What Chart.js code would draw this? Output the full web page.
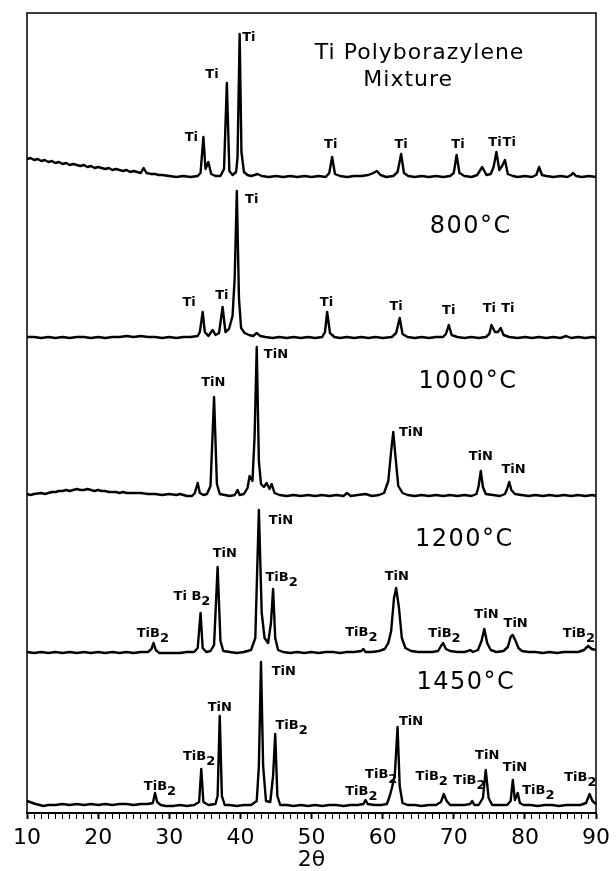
<!DOCTYPE html>
<html>
<head>
<meta charset="utf-8">
<script src="https://cdn.jsdelivr.net/npm/chart.js@4.4.1/dist/chart.umd.min.js"></script>
<style>
  html, body { margin: 0; padding: 0; background: #fff; }
</style>
</head>
<body>
<canvas id="xrd" width="616" height="871"></canvas>
<script>
// 2-theta (deg) and counts (arbitrary), top to bottom
const mixAngle = [10, 10.5, 11, 11.5, 12, 12.5, 13, 13.5, 14, 14.5, 15, 15.5, 16, 16.5, 17, 17.5, 18, 18.5, 19, 19.5, 20, 20.5, 21, 21.5, 22, 22.5, 23, 23.5, 24, 24.5, 25, 25.5, 26, 26.4, 26.8, 27.5, 28, 28.5, 29, 30, 31, 32, 33, 34, 34.4, 34.8, 35.1, 35.5, 35.9, 36.5, 37.2, 37.7, 38.1, 38.45, 38.9, 39.4, 39.6, 39.9, 40.15, 40.5, 41, 41.5, 42, 42.4, 43, 44, 45, 46, 47, 48, 49, 50, 51, 52, 52.5, 52.9, 53.3, 54, 55, 56, 57, 58, 58.7, 59.2, 59.7, 60.5, 61.5, 62.1, 62.6, 63, 63.6, 64.5, 65.5, 66.5, 67.5, 68.5, 69.5, 70, 70.4, 70.8, 71.5, 72.5, 73.3, 74, 74.6, 75.2, 75.6, 76, 76.4, 76.8, 77.2, 77.6, 78.3, 79, 80, 81, 81.6, 82, 82.4, 83, 84, 85, 86, 86.5, 86.8, 87.2, 88, 89, 90];
const mixCounts = [18, 19, 17, 18, 16, 17, 15, 16, 14, 15, 13, 14, 12, 13, 12, 11, 12, 10, 11, 9, 10, 9, 8, 9, 7, 8, 7, 6, 7, 5, 6, 5, 4, 9, 4, 3, 3, 2, 2, 1, 0, 1, 0, 1, 4, 40, 8, 15, 3, 1, 1, 8, 94, 6, 2, 5, 20, 143, 25, 5, 2, 1, 2, 3, 1, 0, 1, 0, 1, 0, 1, 0, 1, 0, 4, 20, 3, 1, 0, 1, 1, 2, 4, 6, 2, 0, 1, 5, 23, 4, 1, 0, 1, 0, 1, 0, 1, 4, 22, 4, 1, 0, 2, 10, 2, 3, 10, 25, 7, 11, 17, 3, 1, 0, 1, 0, 2, 10, 2, 1, 0, 1, 0, 2, 4, 1, 0, 1, 0];

const t800Angle = [10, 11, 12, 13, 14, 15, 16, 17, 18, 19, 20, 21, 22, 23, 24, 25, 26, 27, 28, 29, 30, 31, 32, 33, 34, 34.3, 34.7, 35, 35.5, 36.1, 36.5, 37, 37.5, 37.9, 38.4, 38.9, 39.2, 39.5, 39.8, 40.1, 40.6, 41.2, 41.8, 42.3, 42.8, 43.5, 44.5, 45.5, 46.5, 47.5, 48.5, 49.5, 50.5, 51.5, 51.9, 52.2, 52.6, 53.2, 54, 55, 56, 57, 58, 59, 60, 61.3, 61.9, 62.4, 62.8, 63.5, 64.5, 65.5, 66.5, 67.5, 68.5, 68.9, 69.3, 69.7, 70.5, 71.5, 72.5, 73.5, 74.5, 75, 75.3, 75.8, 76.2, 76.6, 77, 77.8, 79, 80, 81, 82, 83, 84, 85, 85.8, 86.5, 87.5, 88.5, 89.5, 90];
const t800Counts = [1, 1, 0, 1, 0, 1, 0, 1, 1, 0, 1, 0, 1, 1, 2, 1, 2, 1, 1, 0, 1, 0, 1, 1, 2, 6, 26, 6, 2, 8, 3, 5, 31, 6, 9, 22, 60, 147, 40, 10, 5, 3, 2, 5, 2, 1, 0, 1, 0, 1, 0, 1, 0, 1, 6, 26, 5, 1, 0, 1, 0, 1, 0, 1, 0, 1, 5, 20, 4, 1, 0, 1, 0, 1, 1, 4, 13, 3, 1, 0, 1, 0, 1, 4, 13, 6, 6, 10, 3, 1, 0, 1, 0, 1, 0, 1, 0, 2, 0, 1, 0, 1, 0];

const t1000Angle = [10, 10.5, 11, 12, 12.5, 13, 13.5, 14, 14.5, 15, 15.5, 16, 16.5, 17, 17.5, 18, 18.5, 19, 19.5, 20, 20.5, 21, 21.5, 22, 22.5, 23, 23.5, 24, 25, 26, 27, 28, 29, 30, 31, 31.5, 32, 32.5, 33.2, 33.6, 34, 34.3, 34.8, 35.3, 35.8, 36.3, 36.7, 37.1, 37.8, 38.5, 39.2, 39.6, 39.9, 40.5, 41, 41.3, 41.7, 42, 42.3, 42.6, 42.9, 43.3, 43.7, 44.1, 44.4, 44.8, 45.5, 46.5, 47.5, 48.5, 49.5, 50.5, 51.5, 52.5, 53.5, 54.5, 55, 55.5, 56.5, 57.6, 58.5, 59.5, 60.2, 60.8, 61.2, 61.5, 61.8, 62.2, 62.8, 63.5, 64.5, 65.5, 66.5, 67.5, 68.5, 69.5, 70.5, 71.5, 72.5, 73.2, 73.5, 73.8, 74.1, 74.5, 75.5, 76.5, 77.2, 77.5, 77.8, 78.1, 78.6, 79.5, 80.5, 81.5, 82.5, 83.5, 84.5, 85.5, 86.5, 87.5, 88.5, 89.5, 90];
const t1000Counts = [2, 1, 2, 3, 2, 3, 4, 4, 5, 5, 6, 5, 6, 7, 6, 6, 7, 6, 5, 6, 5, 5, 4, 4, 4, 3, 4, 3, 3, 3, 2, 2, 1, 2, 1, 2, 1, 0, 0, 3, 13, 3, 1, 2, 10, 99, 12, 2, 1, 0, 1, 6, 1, 2, 8, 20, 15, 60, 149, 35, 12, 9, 13, 7, 12, 3, 1, 0, 1, 0, 1, 0, 1, 0, 1, 0, 3, 0, 1, 2, 0, 1, 3, 15, 45, 64, 40, 10, 3, 1, 0, 1, 0, 1, 0, 1, 0, 1, 0, 2, 10, 25, 9, 2, 1, 0, 2, 7, 14, 6, 2, 1, 0, 1, 0, 1, 0, 1, 0, 1, 0, 1, 0];

const t1200Angle = [10, 11, 12, 13, 14, 15, 16, 17, 18, 19, 20, 21, 22, 23, 24, 25, 26, 27, 27.5, 27.8, 28.1, 28.6, 29.5, 30.5, 31.5, 32.5, 33.5, 34, 34.4, 34.7, 35.2, 35.8, 36.3, 36.8, 37.2, 37.6, 38.5, 39.5, 40.5, 41.5, 42.1, 42.6, 43, 43.4, 43.9, 44.3, 44.6, 44.9, 45.3, 46, 47, 48, 49, 50, 51, 52, 53, 54, 55, 56, 57, 57.3, 57.6, 58.5, 59.5, 60.3, 60.8, 61.2, 61.6, 61.9, 62.3, 62.7, 63.2, 64, 65, 66, 67, 67.8, 68.2, 68.5, 68.9, 69.5, 70.5, 71.5, 72, 72.3, 72.7, 73.4, 73.9, 74.3, 74.7, 75.2, 76, 77, 77.6, 78, 78.3, 78.7, 79.1, 79.6, 80.5, 81.5, 82.5, 83.5, 84.5, 85.5, 86.5, 87.5, 88.3, 88.9, 89.4, 90];
const t1200Counts = [1, 0, 1, 0, 1, 0, 1, 0, 1, 0, 1, 0, 1, 0, 1, 0, 1, 1, 4, 10, 3, 0, 0, 0, 0, 1, 1, 5, 40, 5, 1, 2, 8, 86, 12, 2, 1, 0, 1, 3, 15, 143, 40, 15, 10, 30, 64, 15, 3, 1, 0, 1, 0, 1, 0, 1, 1, 0, 1, 1, 2, 4, 1, 1, 2, 4, 10, 22, 55, 65, 45, 15, 5, 2, 1, 1, 1, 2, 7, 10, 4, 2, 1, 1, 2, 3, 1, 3, 12, 24, 10, 3, 1, 2, 6, 16, 18, 12, 5, 2, 1, 1, 0, 1, 0, 1, 1, 1, 3, 7, 4, 3];

const t1450Angle = [10, 10.4, 10.8, 11.2, 11.8, 12.3, 13, 14, 15, 16, 17, 18, 19, 20, 21, 22, 23, 24, 25, 26, 27, 27.7, 28, 28.3, 28.8, 29.5, 30.5, 31.5, 32.5, 33.5, 34.2, 34.5, 34.8, 35.5, 36.5, 36.8, 37.1, 37.4, 37.8, 38.5, 39.5, 40.5, 41.5, 42.3, 42.6, 42.9, 43.2, 43.6, 44.2, 44.6, 44.9, 45.2, 45.6, 46.5, 47.5, 48.5, 49.5, 50.5, 51.5, 52.5, 53.5, 54.5, 55.5, 56.5, 57.3, 57.6, 57.9, 58.8, 59.8, 60.6, 61, 61.3, 61.7, 62.1, 62.4, 62.8, 63.5, 64.5, 65.5, 66.5, 67.5, 68.2, 68.6, 69, 69.5, 70.5, 71.5, 72.3, 72.6, 72.9, 73.5, 74.1, 74.5, 74.9, 75.4, 76.5, 77.5, 78, 78.3, 78.6, 79, 79.3, 79.8, 80.8, 81.8, 82.8, 83.8, 84.8, 85.8, 86.8, 87.8, 88.6, 89.1, 89.5, 90];
const t1450Counts = [5, 4, 3, 2, 1, 0, 1, 1, 2, 1, 2, 1, 2, 1, 2, 1, 2, 2, 1, 2, 2, 3, 13, 4, 1, 0, 0, 1, 0, 1, 4, 37, 4, 1, 2, 10, 90, 10, 1, 1, 0, 1, 1, 5, 40, 144, 40, 5, 4, 30, 72, 10, 1, 1, 0, 1, 0, 1, 0, 1, 1, 0, 1, 1, 2, 6, 2, 1, 1, 2, 10, 18, 30, 79, 20, 3, 1, 1, 0, 1, 1, 4, 12, 5, 1, 1, 1, 2, 5, 1, 1, 8, 36, 8, 1, 1, 1, 5, 26, 6, 13, 3, 1, 1, 0, 1, 1, 0, 1, 1, 1, 3, 12, 5, 2];

// phase labels: panel index (0 = top), 2-theta, height above baseline, text
const peakPanel = [0, 0, 0, 0, 0, 0, 0, 0, 1, 1, 1, 1, 1, 1, 1, 1, 2, 2, 2, 2, 2, 3, 3, 3, 3, 3, 3, 3, 3, 3, 3, 3, 4, 4, 4, 4, 4, 4, 4, 4, 4, 4, 4, 4, 4, 4];
const peakAngle = [41.2, 36.0, 33.1, 52.7, 62.6, 70.6, 75.8, 77.8, 41.6, 32.8, 37.4, 52.1, 61.9, 69.3, 75.0, 77.6, 45.0, 36.2, 64.0, 73.8, 78.4, 45.7, 37.8, 33.2, 45.8, 62.0, 27.7, 57.0, 68.7, 74.6, 78.7, 87.6, 46.1, 37.1, 34.2, 47.2, 28.7, 64.0, 57.0, 59.8, 66.9, 72.2, 74.7, 78.6, 81.9, 87.8];
const peakHeight = [139, 102, 39, 32, 32, 32, 34, 34, 138, 35, 42, 35, 31, 27, 29, 29, 141, 113, 63, 39, 26, 132, 99, 56, 75, 76, 19, 20, 19, 38, 29, 19, 134, 98, 49, 80, 19, 84, 14, 31, 29, 25, 50, 38, 15, 28];
const peakText = ['Ti', 'Ti', 'Ti', 'Ti', 'Ti', 'Ti', 'Ti', 'Ti', 'Ti', 'Ti', 'Ti', 'Ti', 'Ti', 'Ti', 'Ti', 'Ti', 'TiN', 'TiN', 'TiN', 'TiN', 'TiN', 'TiN', 'TiN', 'Ti B2', 'TiB2', 'TiN', 'TiB2', 'TiB2', 'TiB2', 'TiN', 'TiN', 'TiB2', 'TiN', 'TiN', 'TiB2', 'TiB2', 'TiB2', 'TiN', 'TiB2', 'TiB2', 'TiB2', 'TiB2', 'TiN', 'TiN', 'TiB2', 'TiB2'];

// sample captions
const titlePanel = [0, 0, 1, 2, 3, 4];
const titleAngle = [65.2, 63.6, 72.4, 72.0, 71.5, 71.7];
const titleHeight = [124, 97, 111, 114, 113, 123];
const titleText = ['Ti Polyborazylene', 'Mixture', '800°C', '1000°C', '1200°C', '1450°C'];

const traces = [
    [mixAngle, mixCounts],
    [t800Angle, t800Counts],
    [t1000Angle, t1000Counts],
    [t1200Angle, t1200Counts],
    [t1450Angle, t1450Counts],
];

const datasets = traces.map((t, i) => ({
    data: t[0].map((a, j) => ({ x: a, y: t[1][j] })),
    yAxisID: 'p' + i,
    borderColor: '#000',
    borderWidth: 2.4,
    borderJoinStyle: 'round',
    pointRadius: 0,
    tension: 0,
    fill: false,
    clip: 4,
}));

var panelScale = function (min, max, weight) {
    return {
        type: 'linear',
        display: false,
        stack: 'xrd',
        stackWeight: weight,
        min: min,
        max: max,
    };
}

var drawLabel = function (ctx, text, x, y) {
    if (text.endsWith('B2')) {
        const main = text.slice(0, -1);
        const wm = ctx.measureText(main).width;
        const ws = ctx.measureText('2').width;
        const x0 = x - (wm + ws) / 2;
        ctx.fillText(main, x0, y);
        ctx.fillText('2', x0 + wm, y + 5);
    } else {
        ctx.fillText(text, x - ctx.measureText(text).width / 2, y);
    }
}

const xrdText = {
    id: 'xrdText',
    afterDatasetsDraw(chart) {
        const ctx = chart.ctx;
        const area = chart.chartArea;
        const xs = chart.scales.x;
        ctx.save();
        // frame
        ctx.strokeStyle = '#000';
        ctx.lineWidth = 1.5;
        ctx.beginPath();
        ctx.moveTo(area.left, area.bottom);
        ctx.lineTo(area.left, area.top);
        ctx.lineTo(area.right, area.top);
        ctx.lineTo(area.right, area.bottom);
        ctx.stroke();

        ctx.fillStyle = '#000';
        ctx.textBaseline = 'middle';
        ctx.textAlign = 'left';
        ctx.font = 'bold 13px "DejaVu Sans"';
        peakText.forEach((t, i) => {
            const ys = chart.scales['p' + peakPanel[i]];
            drawLabel(ctx, t, xs.getPixelForValue(peakAngle[i]), ys.getPixelForValue(peakHeight[i]));
        });

        ctx.textAlign = 'center';
        titleText.forEach((t, i) => {
            const ys = chart.scales['p' + titlePanel[i]];
            if (titlePanel[i] === 0) {
                ctx.font = '22px "DejaVu Sans"';
                ctx.letterSpacing = '1px';
            } else {
                ctx.font = '24px "DejaVu Sans"';
                ctx.letterSpacing = '1.5px';
            }
            ctx.fillText(t, xs.getPixelForValue(titleAngle[i]), ys.getPixelForValue(titleHeight[i]));
        });
        ctx.restore();
    }
};

const ctx = document.getElementById('xrd').getContext('2d');
const chart = new Chart(ctx, {
    type: 'line',
    data: { datasets: datasets },
    plugins: [xrdText],
    options: {
        responsive: false,
        animation: false,
        layout: {
            padding: { left: 27, right: 17, top: 13, bottom: 0 }
        },
        plugins: {
            legend: { display: false },
            tooltip: { enabled: false }
        },
        scales: {
            x: {
                type: 'linear',
                position: 'bottom',
                min: 10,
                max: 90,
                afterFit: function (scale) { scale.height = 58; },
                border: { color: '#000', width: 2 },
                grid: {
                    drawOnChartArea: false,
                    tickLength: 6,
                    tickColor: '#000',
                    tickWidth: function (c) { return c.tick && c.tick.value % 10 === 0 ? 2 : 1; }
                },
                ticks: {
                    stepSize: 1,
                    autoSkip: false,
                    maxRotation: 0,
                    padding: 6,
                    color: '#000',
                    font: { family: 'DejaVu Sans', size: 22 },
                    callback: function (v) { return v % 10 === 0 ? v : ''; }
                },
                title: {
                    display: true,
                    text: '2θ',
                    color: '#000',
                    font: { family: 'DejaVu Sans', size: 22, lineHeight: 1 },
                    padding: { top: 0, bottom: 0 }
                }
            },
            // later stacked scales sit higher, so list them bottom first
            p4: panelScale(-7, 151, 158),
            p3: panelScale(-2, 155, 157),
            p2: panelScale(-2, 156, 158),
            p1: panelScale(-2, 159, 161),
            p0: panelScale(-2, 164, 166),
        },
    },
});
</script>
</body>
</html>
